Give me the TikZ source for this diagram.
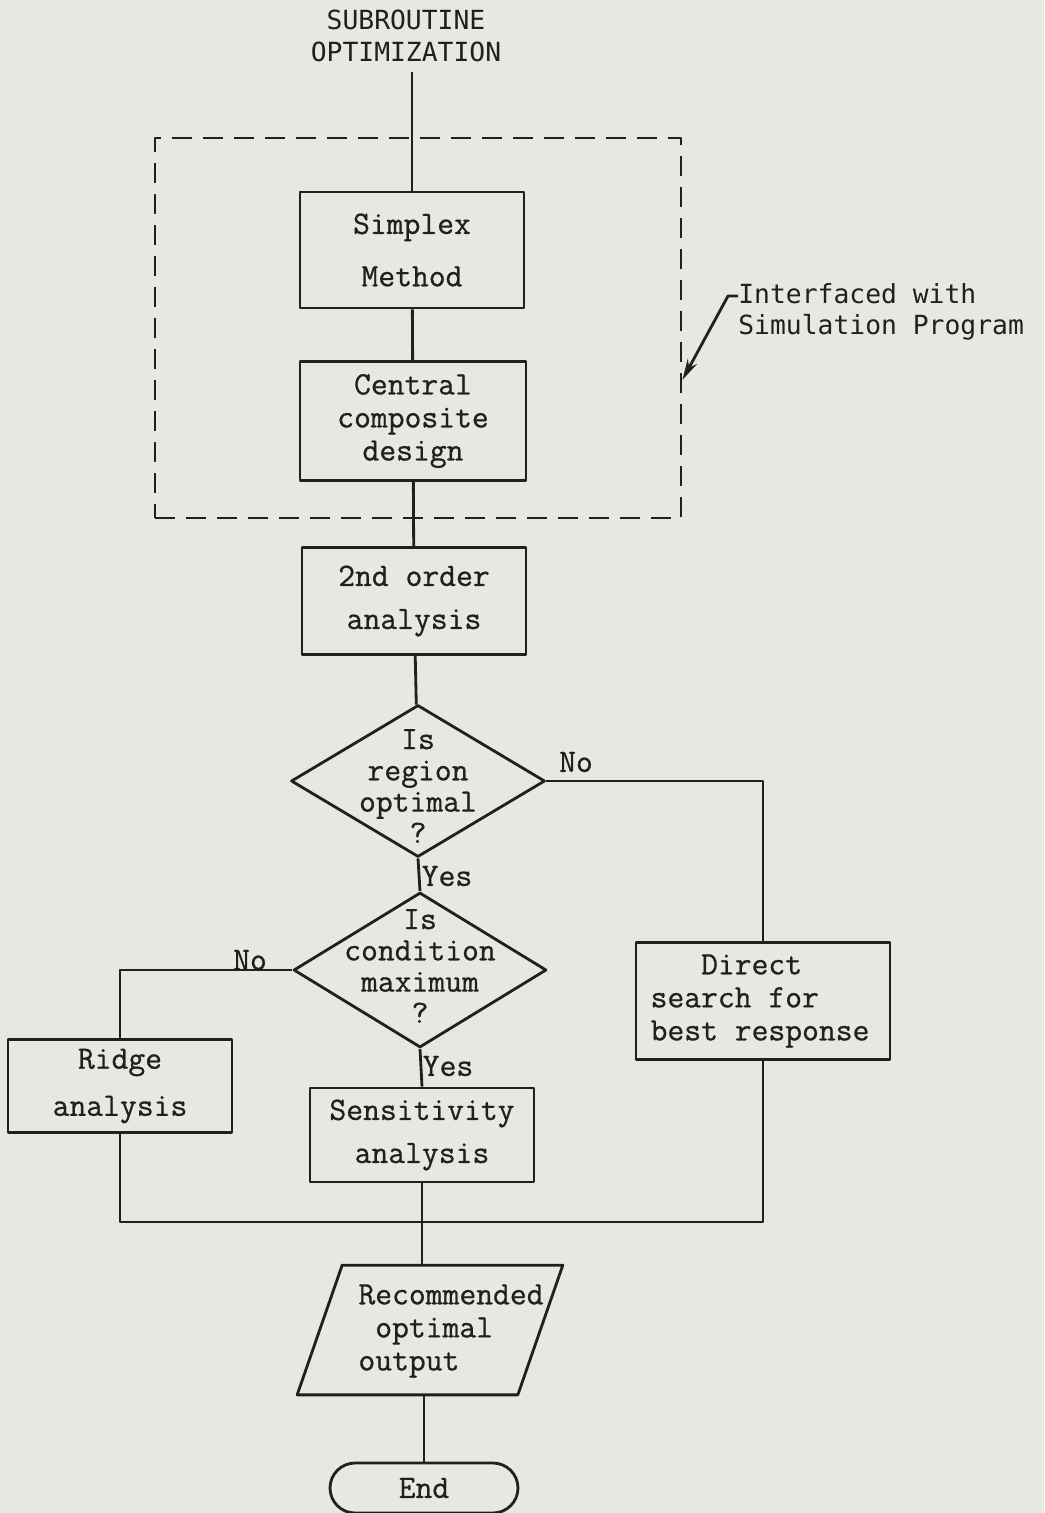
\documentclass[tikz,border=0pt]{standalone}
\usepackage{fontspec}
\setmonofont[FakeBold=0.7]{Latin Modern Mono}
\newfontfamily\gothicfont{DejaVu Sans Mono}
\usetikzlibrary{shapes.geometric,shapes.misc,arrows.meta}
\definecolor{paper}{RGB}{229,233,226}
\definecolor{ink}{RGB}{32,32,32}
\newcommand\flowfont{\ttfamily\fontsize{18.6}{18.8}\selectfont}
\newcommand\decfont{\ttfamily\fontsize{18.6}{17.8}\selectfont}
\newcommand\notefont{\gothicfont\fontsize{15}{17.8}\selectfont}

\begin{document}
\begin{tikzpicture}[x=0.02cm, y=-0.02cm, line join=round,
  flow/.style={line width=1.6pt, draw=ink},
  procbox/.style={draw=ink, line width=1.6pt, rectangle, align=center, inner sep=0pt, text=ink, font=\flowfont},
  decision/.style={draw=ink, line width=1.6pt, diamond, inner sep=0pt},
  dectext/.style={align=center, inner sep=0pt, text=ink, font=\decfont},
  flowlabel/.style={inner sep=0pt, text=ink, font=\flowfont},
  gothic/.style={inner sep=0pt, text=ink, font=\notefont},
  dashbox/.style={draw=ink, line width=1.6pt, dash pattern=on 0.4cm off 0.22cm, inner sep=0pt},
  terminal/.style={draw=ink, line width=1.6pt, rounded rectangle, inner sep=0pt, text=ink, font=\flowfont}]
\useasboundingbox (0,0) rectangle (1044,1513);
\fill[paper] (0,0) rectangle (1044,1513);
\node[gothic, align=center] (title) at (406,36) {SUBROUTINE\\OPTIMIZATION};
\node[dashbox, minimum width=10.52cm, minimum height=7.6cm] (iface) at (418,328) {};
\node[procbox, minimum width=4.48cm, minimum height=2.32cm] (simplex) at (412,250) {Simplex\\[11pt]Method};
\node[procbox, minimum width=4.52cm, minimum height=2.38cm] (central) at (413,421) {Central\\composite\\design};
\node[procbox, minimum width=4.48cm, minimum height=2.14cm] (order) at (414,601) {2nd order\\[5.7pt]analysis};
\node[decision, minimum width=5.08cm, minimum height=3.04cm] (region) at (418,781) {};
\node[dectext] (regiontxt) at (418,786) {Is\\region\\optimal\\?};
\node[decision, minimum width=5.06cm, minimum height=3.1cm] (cond) at (420,970) {};
\node[dectext] (condtxt) at (420,966) {Is\\condition\\maximum\\?};
\node[procbox, minimum width=5.08cm, minimum height=2.34cm, align=left] (direct) at (763,1001) {\phantom{xxx}Direct\\search for\\best response\hspace*{0.12cm}};
\node[procbox, minimum width=4.48cm, minimum height=1.86cm] (ridge) at (120,1086) {Ridge\\[8pt]analysis};
\node[procbox, minimum width=4.48cm, minimum height=1.88cm] (sens) at (422,1135) {Sensitivity\\[5.7pt]analysis};
\node[minimum width=4.4cm, minimum height=2.58cm, inner sep=0pt] (output) at (430,1330) {};
\draw[flow] ([xshift=0.45cm]output.north west) -- ([xshift=0.45cm]output.north east)
  -- ([xshift=-0.45cm]output.south east) -- ([xshift=-0.45cm]output.south west) -- cycle;
\node[dectext, align=left, font=\flowfont] (outtxt) at (451,1331) {Recommended\\\phantom{x}optimal\\output};
\node[terminal, minimum width=3.76cm, minimum height=1.0cm] (finish) at (424,1488) {End};
\node[flowlabel] (noA) at (576,762) {No};
\node[flowlabel] (yesA) at (447,876) {Yes};
\node[flowlabel] (noB) at (250,960) {No};
\node[flowlabel] (yesB) at (448,1066) {Yes};
\node[gothic, align=left, anchor=west] (note) at (738,312) {Interfaced with\\Simulation Program};
\coordinate (bend) at (728,296);
\coordinate (tip) at ([yshift=-1.04cm]iface.east);
\coordinate (merge) at (422,1222);
\draw[flow, shorten <=0.2cm] (title.south -| simplex.north) -- (simplex.north);
\draw[flow] (simplex) -- (central);
\draw[flow] (central) -- (order);
\draw[flow] (order) -- (region);
\draw[flow] (region.south) -- (cond.north);
\draw[flow] (region.east) -| (direct.north);
\draw[flow] (cond.west) -| (ridge.north);
\draw[flow] (cond.south) -- (sens.north);
\draw[flow] (ridge.south) |- (merge) -| (direct.south);
\draw[flow] (sens.south) -- (sens.south |- output.north);
\draw[flow] (output.south -| finish.north) -- (finish.north);
\draw[flow, -{Stealth[length=12pt,width=6pt]}] (note.west |- bend) -- (bend) -- (tip);
\end{tikzpicture}
\end{document}
